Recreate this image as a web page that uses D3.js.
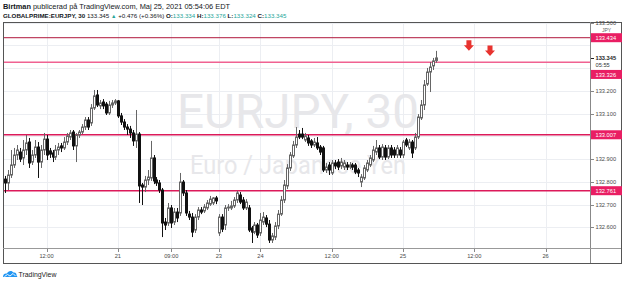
<!DOCTYPE html>
<html>
<head>
<meta charset="utf-8">
<script src="https://cdn.jsdelivr.net/npm/d3@7"></script>
<style>
  body { margin: 0; background: #fff; }
  svg { display: block; font-family: "Liberation Sans", Arial, sans-serif; }
</style>
</head>
<body>
<div id="chart"></div>
<script>
// 30 min EURJPY bars, 20 May 05:00 EDT -> 25 May 05:30 EDT (weekend collapsed)
const opens = [132.812,132.795,132.830,132.874,132.918,132.931,132.905,132.940,132.975,132.887,
  132.918,132.953,132.887,132.940,132.988,132.936,132.927,132.909,132.940,132.958,
  132.949,132.975,132.997,133.019,132.958,133.006,133.019,133.041,133.072,133.059,
  133.125,133.182,133.134,133.151,133.142,133.103,133.138,133.147,133.156,133.090,
  133.063,133.041,133.032,133.015,132.980,133.010,132.786,132.777,132.808,132.817,
  132.905,132.808,132.795,132.764,132.623,132.619,132.685,132.623,132.667,132.663,
  132.799,132.751,132.658,132.645,132.588,132.645,132.676,132.672,132.685,132.702,
  132.707,132.729,132.575,132.645,132.610,132.685,132.685,132.694,132.720,132.742,
  132.720,132.685,132.685,132.597,132.579,132.610,132.575,132.623,132.641,132.614,
  132.544,132.557,132.606,132.658,132.720,132.782,132.861,132.914,132.962,133.010,
  133.010,132.984,132.993,132.980,132.962,132.971,132.953,132.949,132.852,132.874,
  132.839,132.883,132.887,132.870,132.865,132.874,132.865,132.874,132.874,132.852,
  132.799,132.817,132.852,132.874,132.896,132.931,132.949,132.909,132.949,132.909,
  132.949,132.940,132.918,132.940,132.918,132.984,132.949,132.975,132.949,132.997,
  133.081,133.138,133.230,133.283,133.310,133.334];
const highs = [132.826,132.852,132.940,132.949,132.962,132.949,132.984,133.006,132.993,132.940,
  132.984,132.975,132.962,133.015,133.006,132.949,132.940,132.962,132.971,132.971,
  132.997,133.015,133.028,133.028,133.015,133.028,133.054,133.085,133.085,133.142,
  133.204,133.204,133.160,133.164,133.151,133.156,133.160,133.164,133.160,133.103,
  133.076,133.054,133.046,133.028,133.116,133.019,132.795,132.826,132.852,132.980,
  132.918,132.821,132.808,132.773,132.641,132.707,132.698,132.685,132.685,132.839,
  132.808,132.764,132.672,132.663,132.658,132.689,132.689,132.702,132.720,132.738,
  132.733,132.738,132.658,132.658,132.698,132.702,132.716,132.733,132.760,132.755,
  132.733,132.724,132.698,132.606,132.623,132.619,132.663,132.667,132.654,132.632,
  132.575,132.623,132.676,132.738,132.808,132.878,132.931,132.980,133.041,133.028,
  133.037,133.015,133.006,132.988,132.993,132.997,132.962,132.958,132.883,132.887,
  132.896,132.896,132.900,132.905,132.896,132.887,132.887,132.883,132.883,132.861,
  132.834,132.874,132.896,132.918,132.958,132.984,132.962,132.966,132.962,132.962,
  132.962,132.953,132.962,132.953,132.984,132.993,132.988,132.984,133.015,133.098,
  133.160,133.248,133.301,133.327,133.345,133.376];
const lows = [132.751,132.764,132.817,132.861,132.896,132.887,132.874,132.918,132.861,132.874,
  132.905,132.817,132.861,132.918,132.896,132.905,132.887,132.896,132.918,132.931,
  132.940,132.962,132.984,132.940,132.887,132.993,133.010,133.028,133.028,133.046,
  133.116,133.129,133.120,133.120,133.094,133.094,133.125,133.138,133.081,133.050,
  133.028,133.006,132.993,132.958,132.949,132.707,132.698,132.755,132.786,132.804,
  132.790,132.782,132.751,132.557,132.588,132.606,132.597,132.610,132.623,132.650,
  132.738,132.650,132.632,132.557,132.575,132.632,132.658,132.663,132.676,132.694,
  132.698,132.702,132.562,132.579,132.588,132.672,132.676,132.685,132.707,132.702,
  132.676,132.676,132.579,132.531,132.570,132.553,132.562,132.610,132.601,132.531,
  132.531,132.544,132.592,132.650,132.707,132.768,132.848,132.905,132.949,132.988,
  132.988,132.975,132.958,132.949,132.953,132.940,132.918,132.843,132.839,132.830,
  132.830,132.856,132.852,132.856,132.852,132.852,132.856,132.852,132.834,132.821,
  132.777,132.808,132.843,132.865,132.887,132.918,132.900,132.896,132.896,132.900,
  132.905,132.905,132.905,132.905,132.905,132.953,132.940,132.905,132.940,132.988,
  133.072,133.116,133.222,133.195,133.292,133.324];
const closes = [132.795,132.830,132.874,132.918,132.940,132.900,132.940,132.971,132.883,132.918,
  132.953,132.887,132.940,132.988,132.918,132.922,132.909,132.940,132.953,132.949,
  132.975,133.002,133.015,132.958,133.006,133.019,133.041,133.072,133.041,133.125,
  133.178,133.138,133.147,133.134,133.103,133.138,133.147,133.156,133.090,133.063,
  133.041,133.032,133.015,132.980,133.010,132.782,132.777,132.808,132.821,132.905,
  132.804,132.795,132.764,132.619,132.610,132.685,132.619,132.667,132.641,132.799,
  132.751,132.663,132.645,132.579,132.645,132.676,132.667,132.689,132.707,132.724,
  132.729,132.716,132.645,132.592,132.685,132.689,132.694,132.720,132.751,132.711,
  132.685,132.711,132.588,132.579,132.610,132.566,132.632,132.645,132.614,132.544,
  132.562,132.606,132.658,132.720,132.786,132.861,132.918,132.962,132.997,132.997,
  132.997,133.002,132.971,132.962,132.975,132.949,132.931,132.852,132.865,132.852,
  132.883,132.870,132.865,132.887,132.883,132.865,132.874,132.865,132.843,132.839,
  132.821,132.861,132.883,132.905,132.940,132.949,132.909,132.953,132.909,132.949,
  132.918,132.918,132.949,132.918,132.975,132.962,132.975,132.927,132.997,133.085,
  133.138,133.226,133.283,133.305,133.332,133.345];

// axis labels (bar index where each label sits)
const timeLabels = ["12:00", "21", "09:00", "23", "24", "12:00", "25", "12:00", "26"];
const timeIndex = [14, 38, 56, 72, 86, 110, 134, 158, 182];
const priceTicks = [132.6, 132.7, 132.8, 132.9, 133.0, 133.1, 133.2, 133.3, 133.4, 133.5];

// horizontal levels drawn on the chart
const levels = [133.434, 133.326, 133.007, 132.761];
const levelColors = ["#b0173c", "#f06292", "#dc1a5a", "#dc1a5a"];
const levelWidths = [1, 1.6, 1.4, 1.4];

// red down arrows (bar index, price of the tip)
const arrowIdx = [156.2, 163.3];
const arrowTip = [133.377, 133.354];

const lastPrice = 133.345;

const W = 625, H = 283;
const plotL = 3, plotR = 590, plotT = 22, plotB = 248;
const axisFont = 5.7;

const svg = d3.select("#chart").append("svg")
  .attr("width", W)
  .attr("height", H);

const x = d3.scaleLinear().domain([0, 145]).range([5, 435.65]);
const y = d3.scaleLinear().domain([132.6, 133.5]).range([227.3, 22.7]);
const px = v => Math.round(x(v)) + 0.5;

svg.append("clipPath").attr("id", "plot")
  .append("rect").attr("x", plotL).attr("y", plotT).attr("width", plotR - plotL).attr("height", plotB - plotT);

const plot = svg.append("g").attr("clip-path", "url(#plot)");

// grid
plot.selectAll(".hgrid").data(priceTicks).enter().append("line")
  .attr("x1", plotL).attr("x2", plotR)
  .attr("y1", d => Math.round(y(d)) + 0.5).attr("y2", d => Math.round(y(d)) + 0.5)
  .attr("stroke", "#eceef2");
plot.selectAll(".vgrid").data(timeIndex).enter().append("line")
  .attr("x1", d => px(d)).attr("x2", d => px(d))
  .attr("y1", plotT).attr("y2", plotB)
  .attr("stroke", "#eceef2");

// watermark
plot.append("text")
  .text("EURJPY, 30")
  .attr("x", 177).attr("y", 128)
  .attr("textLength", 242).attr("lengthAdjust", "spacingAndGlyphs")
  .attr("font-family", "Roboto, sans-serif")
  .attr("font-size", 48)
  .attr("fill", "#e7e7ea");
plot.append("text")
  .text("Euro / Japanese Yen")
  .attr("x", 190).attr("y", 174)
  .attr("textLength", 216).attr("lengthAdjust", "spacingAndGlyphs")
  .attr("font-family", "Roboto, sans-serif")
  .attr("font-size", 25)
  .attr("fill", "#e7e7ea");

// level lines
plot.selectAll(".level").data(levels).enter().append("line")
  .attr("x1", plotL).attr("x2", plotR)
  .attr("y1", d => y(d)).attr("y2", d => y(d))
  .attr("stroke", (d, i) => levelColors[i])
  .attr("stroke-width", (d, i) => levelWidths[i]);

// candles
const bars = d3.range(closes.length);
const up = i => closes[i] >= opens[i];

plot.selectAll(".wick").data(bars).enter().append("line")
  .attr("x1", i => px(i)).attr("x2", i => px(i))
  .attr("y1", i => y(highs[i])).attr("y2", i => y(lows[i]))
  .attr("stroke", i => up(i) ? "#666" : "#111")
  .attr("stroke-width", 1);

plot.selectAll(".body").data(bars).enter().append("rect")
  .attr("x", i => px(i) - 1)
  .attr("width", 2)
  .attr("y", i => y(Math.max(opens[i], closes[i])))
  .attr("height", i => Math.max(0.8, Math.abs(y(opens[i]) - y(closes[i]))))
  .attr("fill", i => up(i) ? "#fff" : "#111")
  .attr("stroke", i => up(i) ? "#666" : "#111")
  .attr("stroke-width", 1);

// arrows
arrowIdx.forEach((a, k) => {
  const cx = x(a), ty = y(arrowTip[k]);
  const p = d3.path();
  p.moveTo(cx - 2.5, ty - 10.5);
  p.lineTo(cx + 2.5, ty - 10.5);
  p.lineTo(cx + 2.5, ty - 5.5);
  p.lineTo(cx + 5, ty - 5.5);
  p.lineTo(cx, ty);
  p.lineTo(cx - 5, ty - 5.5);
  p.lineTo(cx - 2.5, ty - 5.5);
  p.closePath();
  plot.append("path").attr("d", p.toString()).attr("fill", "#e8332f");
});

// frame and axes
svg.append("rect")
  .attr("x", plotL + 0.5).attr("y", plotT + 0.5)
  .attr("width", 621 - plotL).attr("height", 263 - plotT)
  .attr("fill", "none").attr("stroke", "#555");
svg.append("line")
  .attr("x1", plotR + 0.5).attr("x2", plotR + 0.5)
  .attr("y1", plotT).attr("y2", 263)
  .attr("stroke", "#888");
svg.append("line")
  .attr("x1", plotL).attr("x2", 621)
  .attr("y1", plotB + 0.5).attr("y2", plotB + 0.5)
  .attr("stroke", "#999");

// time axis
const tAxis = svg.append("g");
tAxis.selectAll("line").data(timeIndex).enter().append("line")
  .attr("x1", d => px(d)).attr("x2", d => px(d))
  .attr("y1", plotB + 1).attr("y2", plotB + 4)
  .attr("stroke", "#888");
tAxis.selectAll("text").data(timeLabels).enter().append("text")
  .text(d => d)
  .attr("x", (d, i) => x(timeIndex[i]))
  .attr("y", 257.5)
  .attr("text-anchor", "middle")
  .attr("font-size", axisFont)
  .attr("fill", "#4a4a4a");

// last price block (price + countdown) sits at the price; level labels make room below it
const lastY = y(lastPrice);
const lastBlockBottom = lastY + 12;
const labelY = levels.map(l => {
  const ly = y(l);
  return (ly > lastY - 6 && ly < lastBlockBottom + 4.5) ? lastBlockBottom + 4.5 : ly;
});

// price axis
const shownTicks = priceTicks.filter(p =>
  !labelY.some(ly => Math.abs(ly - y(p)) < 8) &&
  !levels.some(l => Math.abs(y(l) - y(p)) < 8) &&
  !(y(p) > lastY - 7 && y(p) < lastBlockBottom + 2));
const pAxis = svg.append("g");
pAxis.selectAll("line").data(shownTicks).enter().append("line")
  .attr("x1", plotR + 1).attr("x2", plotR + 4)
  .attr("y1", d => Math.round(y(d)) + 0.5).attr("y2", d => Math.round(y(d)) + 0.5)
  .attr("stroke", "#888");
pAxis.selectAll("text").data(shownTicks).enter().append("text")
  .text(d => d3.format(".3f")(d))
  .attr("x", 595.5)
  .attr("y", d => y(d) + 2)
  .attr("font-size", axisFont)
  .attr("fill", "#4a4a4a");
svg.append("text").text("JPY")
  .attr("x", 602).attr("y", 32)
  .attr("font-size", 5).attr("fill", "#666");

// level labels
const lab = svg.append("g");
lab.selectAll("rect").data(levels).enter().append("rect")
  .attr("x", plotR + 1).attr("width", 31)
  .attr("y", (d, i) => labelY[i] - 4.5).attr("height", 9)
  .attr("fill", "#e91e63");
lab.selectAll("text").data(levels).enter().append("text")
  .text(d => d3.format(".3f")(d))
  .attr("x", 595.5).attr("y", (d, i) => labelY[i] + 2.1)
  .attr("font-size", axisFont)
  .attr("fill", "#fff");

// last price label with countdown
svg.append("line")
  .attr("x1", plotR + 1).attr("x2", plotR + 4)
  .attr("y1", Math.round(lastY) + 0.5).attr("y2", Math.round(lastY) + 0.5)
  .attr("stroke", "#222");
svg.append("text").text(d3.format(".3f")(lastPrice))
  .attr("x", 595.5).attr("y", lastY + 2)
  .attr("font-size", axisFont).attr("font-weight", "bold").attr("fill", "#222");
svg.append("text").text("05:55")
  .attr("x", 595.5).attr("y", lastY + 9)
  .attr("font-size", axisFont).attr("fill", "#333");

// header
const h1 = svg.append("text").attr("x", 3).attr("y", 9).attr("font-size", 7.4).attr("fill", "#131722");
h1.append("tspan").attr("font-weight", "bold").text("Birtman");
h1.append("tspan").text(" publicerad på TradingView.com, Maj 25, 2021 05:54:06 EDT");

const teal = "#26a69a";
const h2 = svg.append("text").attr("x", 3).attr("y", 17.5).attr("font-size", 6.2).attr("fill", "#131722");
h2.append("tspan").attr("font-weight", "bold").text("GLOBALPRIME:EURJPY, 30");
h2.append("tspan").text("  133.345 ");
h2.append("tspan").attr("fill", teal).attr("font-size", 5.5).text("▲");
h2.append("tspan").text(" +0.476 (+0.36%) ");
[["O:", opens[145]], ["H:", highs[145]], ["L:", lows[145]], ["C:", closes[145]]].forEach(([k, v], i) => {
  h2.append("tspan").attr("font-weight", "bold").text((i ? " " : "") + k);
  h2.append("tspan").attr("fill", teal).text(d3.format(".3f")(v));
});

// footer logo
const logo = svg.append("g").attr("transform", "translate(3,270)");
logo.append("path")
  .attr("d", "M0,7 C0,4 2,3 4,3.5 C5,0.5 9,0 10.5,2.5 C12.5,2 14,3.5 13.5,5.5 C14.5,6 14.5,7 14,7 Z")
  .attr("fill", "#2196f3");
logo.append("path")
  .attr("d", "M1.5,6.5 L4.5,4.5 L7,6 L10,3.5 L12.5,6")
  .attr("fill", "none").attr("stroke", "#fff").attr("stroke-width", 0.9);
svg.append("text").text("TradingView")
  .attr("x", 18.5).attr("y", 277)
  .attr("font-size", 6.9).attr("fill", "#222");
</script>
</body>
</html>
